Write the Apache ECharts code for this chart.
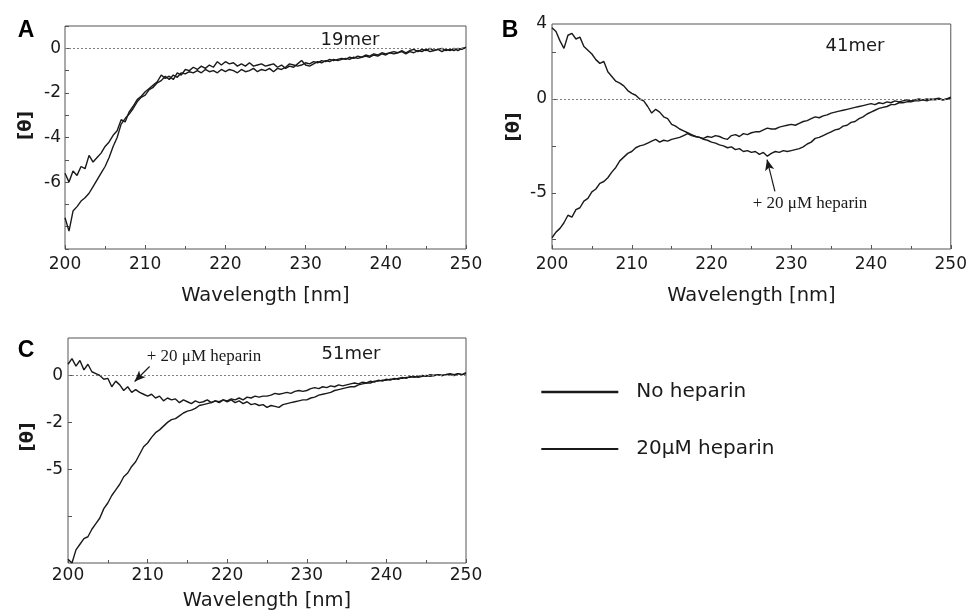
<!DOCTYPE html>
<html>
<head>
<meta charset="utf-8">
<script src="https://cdn.jsdelivr.net/npm/echarts@6/dist/echarts.min.js"></script>
<style>
html,body{margin:0;padding:0;background:#fff;}
#chart{width:970px;height:616px;}
</style>
</head>
<body>
<div id="chart"></div>
<script>
// Wavelength grid (nm)
const wavelength = [
200,200.5,201,201.5,202,202.5,203,203.5,204,204.5,
205,205.5,206,206.5,207,207.5,208,208.5,209,209.5,
210,210.5,211,211.5,212,212.5,213,213.5,214,214.5,
215,215.5,216,216.5,217,217.5,218,218.5,219,219.5,
220,220.5,221,221.5,222,222.5,223,223.5,224,224.5,
225,225.5,226,226.5,227,227.5,228,228.5,229,229.5,
230,230.5,231,231.5,232,232.5,233,233.5,234,234.5,
235,235.5,236,236.5,237,237.5,238,238.5,239,239.5,
240,240.5,241,241.5,242,242.5,243,243.5,244,244.5,
245,245.5,246,246.5,247,247.5,248,248.5,249,249.5,
250];

// Panel A: 19mer
const a19Heparin = [
-5.6,-6.0,-5.5,-5.7,-5.3,-5.4,-4.8,-5.1,-4.9,-4.7,
-4.4,-4.2,-3.9,-3.7,-3.2,-3.3,-2.85,-2.6,-2.3,-2.15,
-1.95,-1.8,-1.65,-1.5,-1.2,-1.35,-1.25,-1.4,-1.1,-1.2,
-0.95,-1.0,-0.85,-0.95,-0.8,-0.9,-0.75,-0.85,-0.6,-0.75,
-0.6,-0.7,-0.65,-0.8,-0.7,-0.8,-0.65,-0.8,-0.75,-0.7,
-0.8,-0.75,-0.7,-0.85,-0.75,-0.9,-0.8,-0.85,-0.7,-0.55,
-0.75,-0.8,-0.7,-0.6,-0.65,-0.55,-0.6,-0.5,-0.55,-0.5,
-0.45,-0.5,-0.4,-0.45,-0.4,-0.35,-0.4,-0.3,-0.35,-0.25,
-0.3,-0.2,-0.25,-0.2,-0.15,-0.25,-0.15,-0.2,-0.1,-0.15,
-0.05,-0.15,-0.1,-0.05,-0.15,-0.05,-0.1,0.0,-0.1,0.0,
0.0];
const a19NoHeparin = [
-7.6,-8.2,-7.3,-7.1,-6.85,-6.7,-6.5,-6.2,-5.9,-5.6,
-5.3,-4.9,-4.4,-4.0,-3.4,-3.15,-2.95,-2.7,-2.4,-2.2,
-2.1,-1.85,-1.75,-1.55,-1.45,-1.25,-1.4,-1.2,-1.3,-1.1,
-1.15,-1.05,-1.1,-1.0,-1.1,-0.95,-1.05,-1.0,-1.1,-0.95,
-1.05,-0.95,-1.0,-1.1,-0.95,-1.05,-1.0,-0.9,-1.05,-0.95,
-1.0,-0.9,-1.05,-0.9,-0.95,-0.85,-0.7,-0.75,-0.8,-0.75,
-0.65,-0.7,-0.6,-0.65,-0.55,-0.6,-0.5,-0.55,-0.5,-0.45,
-0.5,-0.4,-0.45,-0.35,-0.4,-0.3,-0.35,-0.25,-0.3,-0.2,
-0.25,-0.2,-0.15,-0.2,-0.1,-0.2,-0.1,-0.05,-0.15,-0.05,
-0.1,0.0,-0.1,-0.05,0.0,-0.1,-0.05,-0.1,0.0,-0.05,
0.05];

// Panel B: 41mer
const b41Heparin = [
3.8,3.6,3.1,2.7,3.4,3.5,3.2,3.3,2.8,2.6,
2.4,2.1,1.9,2.0,1.45,1.2,0.95,0.85,0.7,0.45,
0.3,0.2,0.0,-0.1,-0.4,-0.75,-0.55,-0.7,-0.95,-1.05,
-1.35,-1.45,-1.6,-1.7,-1.8,-1.9,-2.0,-2.05,-2.15,-2.2,
-2.3,-2.35,-2.45,-2.5,-2.6,-2.55,-2.7,-2.65,-2.8,-2.75,
-2.85,-2.8,-2.95,-2.85,-3.05,-2.9,-2.8,-2.85,-2.75,-2.8,
-2.75,-2.7,-2.65,-2.55,-2.4,-2.3,-2.1,-2.05,-1.95,-1.85,
-1.75,-1.65,-1.6,-1.45,-1.4,-1.25,-1.2,-1.05,-0.95,-0.8,
-0.7,-0.6,-0.5,-0.45,-0.4,-0.3,-0.3,-0.2,-0.2,-0.15,
-0.15,-0.1,-0.1,-0.05,-0.1,0.0,-0.05,0.0,-0.05,0.0,
0.1];
const b41NoHeparin = [
-7.4,-7.1,-6.9,-6.6,-6.2,-6.3,-5.9,-5.8,-5.45,-5.3,
-4.95,-4.8,-4.5,-4.4,-4.2,-3.9,-3.65,-3.3,-3.1,-2.9,
-2.8,-2.6,-2.5,-2.45,-2.35,-2.25,-2.15,-2.3,-2.2,-2.25,
-2.15,-2.1,-2.05,-1.95,-1.85,-1.95,-2.0,-2.05,-2.1,-2.0,
-2.05,-1.95,-2.0,-2.1,-2.15,-1.95,-1.9,-2.0,-1.85,-1.9,
-1.8,-1.75,-1.75,-1.65,-1.55,-1.6,-1.6,-1.5,-1.45,-1.4,
-1.35,-1.4,-1.3,-1.2,-1.15,-1.05,-0.95,-1.0,-0.9,-0.85,
-0.75,-0.7,-0.65,-0.6,-0.55,-0.5,-0.45,-0.4,-0.35,-0.3,
-0.25,-0.3,-0.2,-0.25,-0.15,-0.2,-0.1,-0.15,-0.1,-0.05,
-0.1,-0.05,0.0,-0.05,0.0,-0.05,0.0,0.05,-0.05,0.0,
0.05];

// Panel C: 51mer
const c51Heparin = [
0.6,0.9,0.5,0.8,0.3,0.6,0.2,0.1,0.0,-0.2,
-0.15,-0.6,-0.3,-0.5,-0.8,-0.6,-0.9,-0.75,-0.9,-1.0,
-1.1,-1.0,-1.2,-1.1,-1.35,-1.2,-1.3,-1.25,-1.45,-1.3,
-1.4,-1.5,-1.35,-1.45,-1.4,-1.3,-1.45,-1.35,-1.45,-1.3,
-1.4,-1.3,-1.45,-1.35,-1.5,-1.4,-1.55,-1.5,-1.6,-1.55,
-1.7,-1.6,-1.65,-1.7,-1.55,-1.5,-1.45,-1.4,-1.35,-1.3,
-1.3,-1.2,-1.15,-1.05,-1.0,-0.95,-0.9,-0.8,-0.75,-0.7,
-0.65,-0.6,-0.6,-0.5,-0.45,-0.4,-0.4,-0.3,-0.3,-0.25,
-0.25,-0.2,-0.2,-0.15,-0.15,-0.1,-0.1,-0.05,-0.1,-0.05,
0.0,-0.05,0.0,0.05,0.0,0.05,0.05,0.0,0.1,0.05,
0.1];
const c51NoHeparin = [
-9.8,-10.0,-9.3,-9.0,-8.7,-8.6,-8.2,-7.9,-7.6,-7.1,
-6.8,-6.4,-6.1,-5.8,-5.4,-5.2,-4.85,-4.6,-4.2,-3.8,
-3.6,-3.3,-3.05,-2.9,-2.7,-2.5,-2.35,-2.3,-2.15,-2.0,
-1.9,-1.85,-1.75,-1.6,-1.55,-1.5,-1.45,-1.35,-1.4,-1.3,
-1.35,-1.25,-1.3,-1.2,-1.3,-1.15,-1.2,-1.1,-1.15,-1.1,
-1.1,-1.05,-0.95,-1.0,-0.95,-0.9,-0.95,-0.85,-0.8,-0.85,
-0.8,-0.7,-0.65,-0.7,-0.6,-0.65,-0.55,-0.6,-0.5,-0.55,
-0.5,-0.45,-0.4,-0.45,-0.35,-0.4,-0.3,-0.35,-0.25,-0.3,
-0.2,-0.25,-0.15,-0.2,-0.1,-0.15,-0.05,-0.1,-0.05,0.0,
-0.05,0.05,0.0,0.05,0.0,0.05,0.1,0.05,0.1,0.05,
0.15];

// Tick labels
const xTicks = [200,210,220,230,240,250];
const aYLabels = [0,-2,-4,-6];
const bYLabels = [0,-5];
const bYTopLabel = 4;
const bYTicks = [2.5,0,-2.5,-5,-7.5];
const cYTicks = [0,-2.5,-5,-7.5];
const cYLabelText = {'0':'0','-2.5':'-2','-5':'-5'};

const seriesNames = ['No heparin','20\u03bcM heparin'];
const panelTags = ['19mer','41mer','51mer'];

const FONT = '"DejaVu Sans", Verdana, sans-serif';
const INK = '#1a1a1a';

function pairs(vals){ return wavelength.map((w,i)=>[w, vals[i]]); }

function xAxisFor(gi, margin, gap){
  return {
    type:'value', gridIndex:gi, min:200, max:250, interval:10,
    axisLine:{show:false, onZero:false},
    axisTick:{show:true, inside:true, length:4, lineStyle:{color:'#555'}},
    minorTick:{show:true, splitNumber:2, length:3, lineStyle:{color:'#555'}},
    splitLine:{show:false},
    axisLabel:{fontFamily:FONT, fontSize:17, color:INK, margin:margin},
    name:'Wavelength [nm]', nameLocation:'middle', nameGap:gap,
    nameTextStyle:{fontFamily:FONT, fontSize:19.5, color:INK}
  };
}

function yName(gap, shift){
  return {
    name:'[\u03b8]', nameLocation:'middle', nameGap:gap,
    nameTextStyle:{fontFamily:FONT, fontSize:18, fontWeight:'bold', color:INK, padding:[0,0,0,shift]}
  };
}

const lineCommon = {type:'line', showSymbol:false, symbol:'none', animation:false,
  lineStyle:{color:INK, width:1.4}, itemStyle:{color:INK}};

function zeroLine(extra){
  const data = [{yAxis:0, lineStyle:{color:'#808080', type:[2,2], width:1}}];
  return {silent:true, symbol:['none','none'], label:{show:false}, animation:false,
    lineStyle:{color:'#808080', type:[2,2], width:1},
    data: extra ? data.concat(extra) : data};
}

function arrow(from, to){
  return [
    {coord:from, symbol:'none', lineStyle:{color:INK, width:1.2, type:'solid'}},
    {coord:to, symbol:'arrow', symbolSize:[7,11]}
  ];
}

const yBase = {type:'value', position:'left', axisLine:{show:false, onZero:false}, splitLine:{show:false}};

const option = {
  backgroundColor:'#fff',
  animation:false,
  grid:[
    {left:65, top:26, width:401, height:223, show:true, borderColor:'#555', borderWidth:1, backgroundColor:'transparent'},
    {left:552, top:24, width:404, height:225, show:true, borderColor:'#555', borderWidth:1, backgroundColor:'transparent'},
    {left:68, top:338, width:398, height:225, show:true, borderColor:'#555', borderWidth:1, backgroundColor:'transparent'}
  ],
  xAxis:[xAxisFor(0,7,37), xAxisFor(1,7,37), xAxisFor(2,4,28)],
  yAxis:[
    Object.assign({}, yBase, {
      gridIndex:0, min:-9, max:1, interval:1,
      axisTick:{show:true, inside:true, length:4, lineStyle:{color:'#555'}},
      axisLabel:{fontFamily:FONT, fontSize:17, color:INK, margin:4,
        formatter:(v)=> aYLabels.indexOf(v)>=0 ? String(v) : ''}
    }, yName(30, 24)),
    Object.assign({}, yBase, {
      gridIndex:1, min:-8, max:4,
      axisTick:{show:true, inside:true, length:4, lineStyle:{color:'#555'}, customValues:bYTicks},
      axisLabel:{fontFamily:FONT, fontSize:17, color:INK, margin:5, customValues:bYLabels}
    }, yName(29, 19)),
    Object.assign({}, yBase, {
      gridIndex:2, min:-10, max:2,
      axisTick:{show:true, inside:true, length:4, lineStyle:{color:'#555'}, customValues:cYTicks},
      axisLabel:{fontFamily:FONT, fontSize:17, color:INK, margin:5, customValues:[0,-2.5,-5],
        formatter:(v)=> cYLabelText[String(v)] !== undefined ? cYLabelText[String(v)] : ''}
    }, yName(31, 27)),
    // overlay axis carrying only the top label "4" of panel B
    Object.assign({}, yBase, {
      gridIndex:1, min:-8, max:4, interval:12, offset:0,
      axisTick:{show:false},
      axisLabel:{fontFamily:FONT, fontSize:17, color:INK, margin:5,
        formatter:(v)=> v === bYTopLabel ? String(v) : ''}
    })
  ],
  legend:{
    orient:'vertical', left:535, top:377, itemWidth:77, itemHeight:20, itemGap:37,
    itemStyle:{opacity:0, borderWidth:0},
    textStyle:{fontFamily:FONT, fontSize:20, color:INK, padding:[0,0,0,13]},
    data:[
      {name:seriesNames[0], lineStyle:{width:2.6, color:INK}},
      {name:seriesNames[1], lineStyle:{width:1.8, color:INK}}
    ]
  },
  graphic:[
    {type:'text', x:26, y:31, style:{text:'A', font:'bold 23px "Liberation Sans", Arial, sans-serif', fill:'#000', align:'center', verticalAlign:'middle'}},
    {type:'text', x:510, y:31, style:{text:'B', font:'bold 23px "Liberation Sans", Arial, sans-serif', fill:'#000', align:'center', verticalAlign:'middle'}},
    {type:'text', x:26, y:351, style:{text:'C', font:'bold 23px "Liberation Sans", Arial, sans-serif', fill:'#000', align:'center', verticalAlign:'middle'}},
    {type:'text', x:350, y:40, style:{text:panelTags[0], font:'18px "DejaVu Sans", Verdana, sans-serif', fill:INK, align:'center', verticalAlign:'middle'}},
    {type:'text', x:855, y:46, style:{text:panelTags[1], font:'18px "DejaVu Sans", Verdana, sans-serif', fill:INK, align:'center', verticalAlign:'middle'}},
    {type:'text', x:351, y:354, style:{text:panelTags[2], font:'18px "DejaVu Sans", Verdana, sans-serif', fill:INK, align:'center', verticalAlign:'middle'}},
    {type:'text', x:810, y:204, style:{text:'+ 20 \u03bcM heparin', font:'17px "Liberation Serif", "Times New Roman", serif', fill:INK, align:'center', verticalAlign:'middle'}},
    {type:'text', x:204, y:357, style:{text:'+ 20 \u03bcM heparin', font:'17px "Liberation Serif", "Times New Roman", serif', fill:INK, align:'center', verticalAlign:'middle'}}
  ],
  series:[
    Object.assign({}, lineCommon, {name:seriesNames[0], xAxisIndex:0, yAxisIndex:0, data:pairs(a19NoHeparin), markLine:zeroLine()}),
    Object.assign({}, lineCommon, {name:seriesNames[1], xAxisIndex:0, yAxisIndex:0, data:pairs(a19Heparin)}),
    Object.assign({}, lineCommon, {name:seriesNames[0], xAxisIndex:1, yAxisIndex:1, data:pairs(b41NoHeparin),
      markLine:zeroLine([arrow([227.95,-4.93],[226.96,-3.23])])}),
    Object.assign({}, lineCommon, {name:seriesNames[1], xAxisIndex:1, yAxisIndex:1, data:pairs(b41Heparin)}),
    Object.assign({}, lineCommon, {name:seriesNames[0], xAxisIndex:2, yAxisIndex:2, data:pairs(c51NoHeparin),
      markLine:zeroLine([arrow([210.25,0.48],[208.37,-0.32])])}),
    Object.assign({}, lineCommon, {name:seriesNames[1], xAxisIndex:2, yAxisIndex:2, data:pairs(c51Heparin)})
  ]
};

const chart = echarts.init(document.getElementById('chart'), null, {renderer:'canvas'});
chart.setOption(option);
</script>
</body>
</html>
